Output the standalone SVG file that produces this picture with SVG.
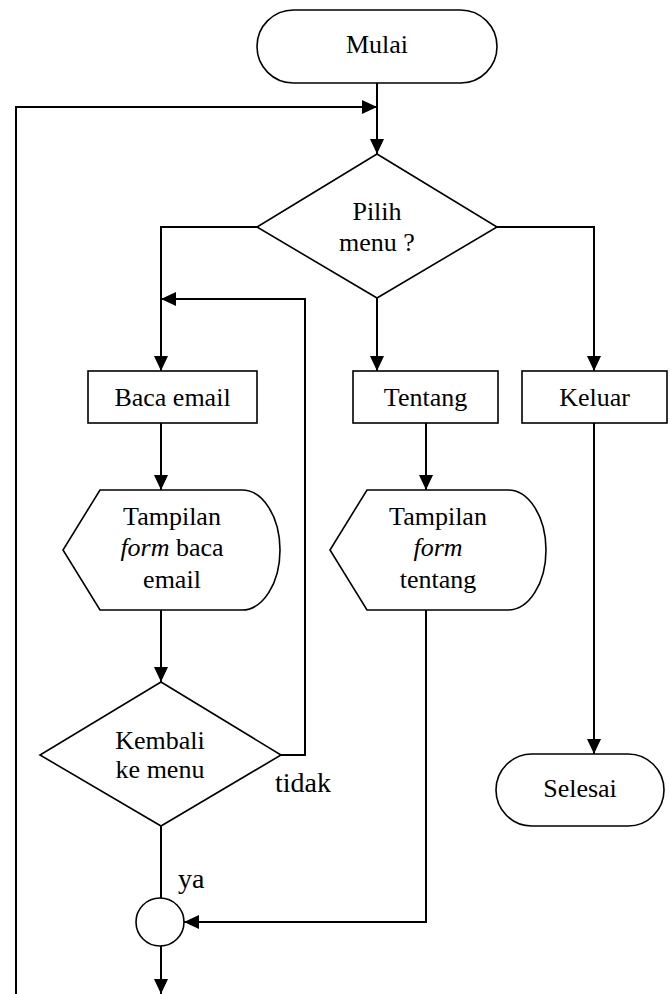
<svg xmlns="http://www.w3.org/2000/svg" width="670" height="994" viewBox="0 0 670 994">
  <style>
    .shape { fill: #ffffff; stroke: #000000; stroke-width: 1.6; }
    .line { fill: none; stroke: #000000; stroke-width: 2; }
    .arrow { marker-end: url(#head); }
    text { font-family: "Liberation Serif", "Times New Roman", serif; font-size: 26px; fill: #000000; text-anchor: middle; }
    .label { font-size: 28px; text-anchor: start; }
    .it { font-style: italic; }
  </style>
  <defs>
    <marker id="head" markerUnits="userSpaceOnUse" markerWidth="15" markerHeight="14" refX="15" refY="7" orient="auto">
      <path d="M0,0 L15,7 L0,14 Z" fill="#000000"/>
    </marker>
  </defs>

  <rect width="670" height="994" fill="#ffffff"/>

  <!-- connectors -->
  <g id="connectors">
    <path class="line arrow" d="M377,83 L377,154"/>
    <path class="line arrow" d="M16,994 L16,107 L377,107"/>
    <path class="line arrow" d="M257,227 L161,227 L161,371"/>
    <path class="line arrow" d="M377,298 L377,371"/>
    <path class="line arrow" d="M497,227 L594,227 L594,371"/>
    <path class="line arrow" d="M161,423 L161,490"/>
    <path class="line arrow" d="M426,423 L426,490"/>
    <path class="line arrow" d="M161,610 L161,682"/>
    <path class="line arrow" d="M281,755 L305,755 L305,299 L161,299"/>
    <path class="line" d="M161,826 L161,898"/>
    <path class="line arrow" d="M426,610 L426,922 L184,922"/>
    <path class="line arrow" d="M161,946 L161,994"/>
    <path class="line arrow" d="M594,423 L594,754"/>
    <text class="label" x="275" y="792">tidak</text>
    <text class="label" x="178" y="888">ya</text>
  </g>

  <g id="mulai">
    <rect class="shape" x="257" y="10" width="240" height="73" rx="36.5" ry="36.5"/>
    <text x="377" y="53">Mulai</text>
  </g>

  <g id="pilih-menu">
    <path class="shape" d="M377,154 L497,227 L377,298 L257,227 Z"/>
    <text x="377" y="220">Pilih</text>
    <text x="377" y="251">menu ?</text>
  </g>

  <g id="baca-email">
    <rect class="shape" x="88" y="371" width="169" height="52"/>
    <text x="172.5" y="406">Baca email</text>
  </g>

  <g id="tentang">
    <rect class="shape" x="353" y="371" width="145" height="52"/>
    <text x="425.5" y="406">Tentang</text>
  </g>

  <g id="keluar">
    <rect class="shape" x="522" y="371" width="145" height="52"/>
    <text x="594.5" y="406">Keluar</text>
  </g>

  <g id="tampilan-baca-email">
    <path class="shape" d="M100,490 L242,490 A38,60 0 0 1 242,610 L100,610 L63,550 Z"/>
    <text x="172" y="525">Tampilan</text>
    <text x="172" y="556"><tspan class="it">form</tspan> baca</text>
    <text x="172" y="588">email</text>
  </g>

  <g id="tampilan-tentang">
    <path class="shape" d="M367,490 L508,490 A38,60 0 0 1 508,610 L367,610 L330,550 Z"/>
    <text x="438" y="525">Tampilan</text>
    <text x="438" y="556" class="it">form</text>
    <text x="438" y="588">tentang</text>
  </g>

  <g id="kembali-ke-menu">
    <path class="shape" d="M161,682 L281,755 L161,826 L40,755 Z"/>
    <text x="160" y="749">Kembali</text>
    <text x="160" y="778">ke menu</text>
  </g>

  <g id="konektor">
    <circle class="shape" cx="160" cy="922" r="24"/>
  </g>

  <g id="selesai">
    <rect class="shape" x="496" y="754" width="168" height="72" rx="36" ry="36"/>
    <text x="580" y="797">Selesai</text>
  </g>
</svg>
